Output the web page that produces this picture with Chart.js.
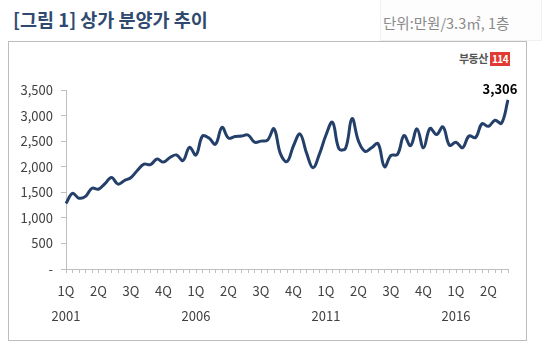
<!DOCTYPE html>
<html>
<head>
<meta charset="utf-8">
<script src="https://cdn.jsdelivr.net/npm/chart.js@4"></script>
<style>
  body { margin: 0; background: #fff; }
  #page { position: relative; width: 550px; height: 353px; overflow: hidden; background: #fff; font-family: "Noto Sans CJK KR", sans-serif; }
  #title { position: absolute; left: 13px; top: 6px; font-size: 18.5px; font-weight: bold; color: #2f4a6e; }
  #unitBox { position: absolute; left: 380px; top: -1px; width: 160px; height: 40px; border: 1px solid #f0f0f0; background: #fdfdfd; }
  #unit { position: absolute; left: 383px; top: 12px; font-size: 14.5px; color: #8a8a8a; }
  #frame { position: absolute; left: 8px; top: 41px; width: 517px; height: 298px; border: 1px solid #bdbdbd; }
  #logo { position: absolute; left: 459px; top: 50px; font-size: 11px; font-weight: bold; color: #555; letter-spacing: -0.5px; }
  #logo span { display: inline-block; background: #e03a32; color: #fff; padding: 0 2px; margin-left: 2px; font-size: 10px; line-height: 14px; }
  #wrap { position: absolute; left: 10px; top: 60px; width: 510px; height: 275px; }
</style>
</head>
<body>
<div id="page">
  <div id="title">[그림 1] 상가 분양가 추이</div>
  <div id="unitBox"></div>
  <div id="unit">단위:만원/3.3㎡, 1층</div>
  <div id="frame"></div>
  <div id="logo">부동산<span>114</span></div>
  <div id="wrap"><canvas id="chart"></canvas></div>
</div>
<script>
// 2001 1Q ~ 2018 1Q, quarterly
const years = [2001, 2002, 2003, 2004, 2005, 2006, 2007, 2008, 2009, 2010, 2011, 2012, 2013, 2014, 2015, 2016, 2017, 2018];
const quarterNames = ['1Q', '2Q', '3Q', '4Q'];

const prices = [
  1280, 1480, 1385, 1420, 1580, 1560, 1670, 1790, 1660, 1730,
  1790, 1930, 2050, 2040, 2150, 2090, 2180, 2230, 2120, 2380,
  2230, 2600, 2560, 2440, 2770, 2560, 2590, 2600, 2620, 2480,
  2500, 2520, 2740, 2250, 2100, 2410, 2640, 2270, 1980, 2250,
  2620, 2870, 2350, 2360, 2940, 2500, 2300, 2370, 2450, 2000,
  2220, 2240, 2610, 2410, 2740, 2370, 2750, 2630, 2780, 2420,
  2480, 2370, 2600, 2570, 2840, 2790, 2910, 2850, 3306
];

const yTicks = [0, 500, 1000, 1500, 2000, 2500, 3000, 3500];

let quarters = [];
years.forEach(y => quarterNames.forEach(q => quarters.push({year: y, q: q})));
quarters = quarters.slice(0, prices.length);

const fontFamily = '"Noto Sans CJK KR", sans-serif';
const axisGray = '#bfbfbf';
const textGray = '#404040';

const lastLabel = {
  id: 'lastLabel',
  afterDatasetsDraw(chart) {
    const meta = chart.getDatasetMeta(0);
    const pt = meta.data[meta.data.length - 1];
    const ctx = chart.ctx;
    ctx.save();
    ctx.font = 'bold 13px ' + fontFamily;
    ctx.fillStyle = '#000';
    ctx.textAlign = 'center';
    ctx.textBaseline = 'bottom';
    ctx.fillText(prices[prices.length - 1].toLocaleString('en-US'), pt.x - 8, pt.y - 4);
    ctx.restore();
  }
};

new Chart(document.getElementById('chart'), {
  type: 'line',
  data: {
    labels: quarters.map(d => d.year + ' ' + d.q),
    datasets: [{
      data: prices,
      borderColor: '#24406a',
      borderWidth: 3,
      pointRadius: 0,
      tension: 0.4,
      fill: false
    }]
  },
  options: {
    responsive: true,
    maintainAspectRatio: false,
    animation: false,
    layout: { padding: { top: 30, right: 12, left: 0, bottom: 0 } },
    plugins: { legend: { display: false }, tooltip: { enabled: false } },
    scales: {
      x: {
        offset: false,
        border: { color: axisGray, width: 1 },
        grid: { drawOnChartArea: false, color: axisGray, tickLength: 4 },
        ticks: {
          autoSkip: false,
          maxRotation: 0,
          padding: 6,
          color: textGray,
          font: { family: fontFamily, size: 13, lineHeight: 1.9 },
          callback: (v, i) => {
            if (i % 5 !== 0) return '';
            const d = quarters[i];
            return [d.q, i % 20 === 0 ? String(d.year) : ''];
          }
        },
        afterFit: s => { s.height = 66; }
      },
      y: {
        min: 0,
        max: 3500,
        border: { color: axisGray, width: 1 },
        grid: { drawOnChartArea: false, color: axisGray, tickLength: 5 },
        afterBuildTicks: s => { s.ticks = yTicks.map(v => ({value: v})); },
        ticks: {
          padding: 8,
          color: textGray,
          font: { family: fontFamily, size: 13 },
          callback: v => v === 0 ? '-' : v.toLocaleString('en-US')
        },
        afterFit: s => { s.width = 56; }
      }
    }
  },
  plugins: [lastLabel]
});
</script>
</body>
</html>
